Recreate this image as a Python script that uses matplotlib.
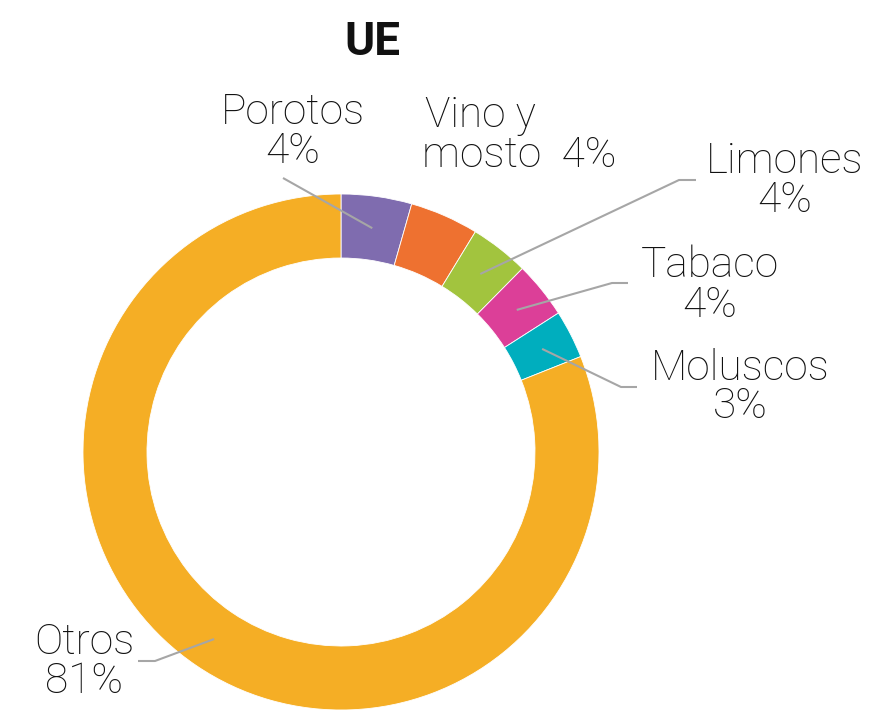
import numpy as np
import matplotlib
matplotlib.use("Agg")
import matplotlib.pyplot as plt

# datos (participacion % en UE)
productos = ["Porotos", "Vino y\nmosto", "Limones", "Tabaco", "Moluscos", "Otros"]
valores = [4.42, 4.30, 3.69, 3.54, 3.02, 81.03]
etiquetas_pct = ["4%", "4%", "4%", "4%", "3%", "81%"]
colores = ["#7F6CAF", "#EE7130", "#A2C43E", "#DC3F98", "#00AEBE", "#F5AE25"]

W, H = 879, 715
fig = plt.figure(figsize=(W / 100, H / 100), dpi=100)
ax = fig.add_axes([0, 0, 1, 1])

cx, cy = 341, H - 452
R = 258
ancho = 64

wedges, _ = ax.pie(valores, colors=colores, startangle=90, counterclock=False,
                   radius=R, center=(cx, cy), frame=True,
                   wedgeprops=dict(width=ancho, edgecolor="white", linewidth=0.6))
ax.set_xlim(0, W)
ax.set_ylim(0, H)
ax.set_aspect("equal")
ax.axis("off")

fuente = "Roboto"
fs = 30.5
gris = "#A6A6A6"

# posiciones de etiquetas (px desde arriba): x, y nombre, y pct, alineacion
pos_etiq = [
    (293, 124, 163, "center"),
    (425, 127, 167, "left"),
    (785, 173, 212, "center"),
    (710, 277, 317, "center"),
    (740, 380, 418, "center"),
    (84, 654, 693, "center"),
]
# codos de las lineas guia (inicio, quiebre) en px
codos = {
    0: [(283, 178)],
    2: [(696, 180), (679, 180)],
    3: [(628, 283), (612, 283)],
    4: [(637, 387), (621, 387)],
    5: [(138, 661), (155, 661)],
}

for i, (w, nombre, pct) in enumerate(zip(wedges, productos, etiquetas_pct)):
    x, yn, yp, ha = pos_etiq[i]
    if i == 1:
        ax.text(x, H - yn, "Vino y", ha="left", va="baseline", fontsize=fs,
                family=fuente, fontweight="light", color="#111111")
        ax.text(x - 3, H - yp, "mosto  " + pct, ha="left", va="baseline", fontsize=fs,
                family=fuente, fontweight="light", color="#111111")
    else:
        ax.text(x, H - yn, nombre, ha=ha, va="baseline", fontsize=fs,
                family=fuente, fontweight="light", color="#111111")
        ax.text(x, H - yp, pct, ha=ha, va="baseline", fontsize=fs,
                family=fuente, fontweight="light", color="#111111")
    if i in codos:
        ang = np.deg2rad((w.theta1 + w.theta2) / 2)
        rm = R - ancho / 2
        px = [p[0] for p in codos[i]] + [cx + rm * np.cos(ang)]
        py = [H - p[1] for p in codos[i]] + [cy + rm * np.sin(ang)]
        ax.plot(px, py, color=gris, lw=1.5, solid_capstyle="butt", zorder=5)

ax.text(372, H - 55, "UE", ha="center", va="baseline", fontsize=33,
        family=fuente, fontweight="bold", color="#111111")

fig.savefig("out.png", dpi=100)
